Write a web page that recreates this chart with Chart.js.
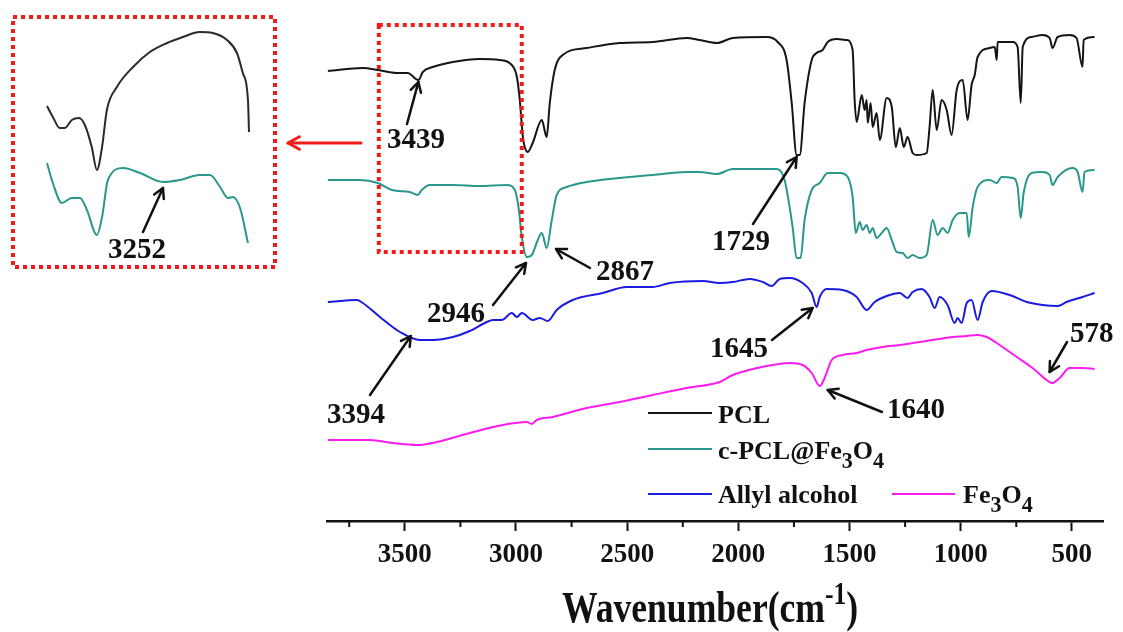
<!DOCTYPE html>
<html><head><meta charset="utf-8">
<script src="https://cdn.jsdelivr.net/npm/chart.js@4.4.1/dist/chart.umd.min.js"></script>
<style>
html,body{margin:0;padding:0;background:#fff;overflow:hidden}
#wrap{position:relative;width:1123px;height:632px;background:#fff}
canvas{position:absolute;left:0;top:0}
</style></head><body>
<div id="wrap"><canvas id="main" width="1123" height="632"></canvas><canvas id="inset" width="290" height="280"></canvas></div>
<script>
const FONT = "'Liberation Serif','Times New Roman',serif";

// ---------- DATA (wavenumber in cm-1, offset intensity in a.u.) ----------
const tickValues = [3500, 3000, 2500, 2000, 1500, 1000, 500];
const minorTickValues = [3750, 3250, 2750, 2250, 1750, 1250, 750];

const pclWavenumber = [3846,3689,3621,3536,3487,3439,3419,3374,3284,3163,3073,3019,2996,2983,2969,2947,2925,2884,2862,2848,2826,2790,2682,2533,2385,2232,2174,2097,2025,1872,1823,1783,1760,1738,1724,1702,1670,1648,1621,1598,1558,1513,1486,1477,1468,1445,1432,1423,1418,1405,1396,1378,1364,1333,1310,1292,1274,1256,1239,1216,1198,1153,1140,1126,1108,1086,1063,1041,1018,991,969,951,937,924,870,847,838,834,766,744,730,721,681,632,600,587,564,510,479,452,447,398];
const pclIntensity = [450,453,451,448,448,441,449,454,459,462,461,456,444,421,384,369,378,401,384,418,451,466,473,478,479,483,481,478,483,484,479,461,418,366,366,418,461,468,471,479,482,481,471,421,399,426,411,421,398,418,394,408,381,423,414,374,393,374,384,368,366,368,394,431,391,421,411,386,431,441,401,436,446,464,473,474,461,479,479,474,418,474,484,486,483,473,484,486,483,454,481,484];

const cpclWavenumber = [3846,3702,3621,3558,3478,3442,3424,3388,3284,3163,3041,3005,2987,2974,2951,2929,2902,2884,2862,2839,2817,2772,2682,2533,2385,2232,2174,2097,2025,1827,1792,1756,1738,1720,1702,1670,1634,1598,1544,1508,1486,1472,1454,1441,1423,1409,1396,1378,1355,1333,1310,1288,1261,1239,1216,1185,1153,1126,1104,1081,1059,1036,1005,973,964,946,924,870,838,816,766,744,730,717,681,632,600,587,564,497,474,452,443,398];
const cpclIntensity = [341,341,338,331,329,326,331,336,336,335,336,331,311,284,264,266,281,288,273,301,326,334,339,343,346,349,349,347,352,352,341,294,263,263,301,331,338,348,348,344,324,288,299,291,296,288,293,283,288,293,281,269,268,263,266,263,266,301,286,293,288,301,308,308,284,314,334,341,338,344,343,334,303,328,348,349,346,336,344,353,349,329,349,351];

const allylWavenumber = [3846,3716,3689,3612,3522,3433,3374,3284,3208,3131,3104,3064,3019,2996,2974,2925,2893,2857,2817,2745,2610,2502,2443,2385,2309,2160,2084,2025,1949,1890,1850,1814,1769,1711,1670,1648,1634,1603,1531,1468,1423,1387,1333,1274,1239,1216,1176,1140,1117,1095,1059,1027,1014,996,973,951,924,901,861,780,703,632,564,524,452,398];
const allylIntensity = [219,221,218,204,189,181,181,184,190,199,201,201,208,204,208,201,203,200,211,221,228,234,234,234,238,240,238,239,242,239,235,242,243,238,228,214,224,232,231,224,211,219,225,228,223,229,232,224,213,224,216,198,203,198,218,221,201,219,230,226,219,216,215,219,224,228];

const fe3o4Wavenumber = [3846,3657,3554,3446,3356,3208,3059,2951,2929,2907,2835,2682,2533,2385,2232,2084,2025,1872,1769,1711,1670,1634,1612,1580,1531,1468,1423,1351,1274,1126,1036,973,928,883,825,748,677,614,587,555,510,452,398];
const fe3o4Intensity = [81,81,78,76,79,88,96,99,97,101,104,113,119,126,133,139,146,155,158,156,148,135,143,161,166,168,171,174,176,181,184,185,186,184,176,164,153,141,138,143,153,153,152];

// inset (magnified 3000-3600 cm-1 region, own offsets)
const insetPclWavenumber = [3584,3567,3547,3532,3512,3491,3474,3454,3439,3424,3410,3381,3334,3285,3235,3189,3140,3102,3061,3032,3015,3000,2997];
const insetPclIntensity = [164,153,142,142,150,152,145,123,100,123,160,183,203,218,227,233,238,237,230,217,197,170,138];
const insetCpclWavenumber = [3584,3567,3541,3512,3488,3468,3439,3424,3407,3363,3314,3247,3198,3140,3110,3081,3058,3044,3023,3000];
const insetCpclIntensity = [107,87,67,72,72,60,35,53,90,102,97,88,90,95,95,83,72,73,62,27];

// peak annotations (label, wavenumber and intensity where the arrow points)
const peakLabels = ['3439','2946','2867','3394','1729','1645','1640','578'];
const peakWavenumber = [3439,2955,2820,3473,1738,1666,1598,600];
const peakIntensity = [439,258,272,185,364,213,131,149];
const insetPeakLabel = '3252';
const insetPeakWavenumber = 3247;
const insetPeakIntensity = 82;

// zoom-box region in main plot
const boxWavenumber = [3617, 2974];
const boxIntensity = [496, 269];

// ---------- STYLE / LAYOUT ----------
const seriesNames = ['PCL', 'c-PCL@Fe3O4', 'Allyl alcohol', 'Fe3O4'];
const COLORS = { pcl:'#151515', cpcl:'#2a978c', allyl:'#1b1be0', fe:'#fb1cf0', red:'#f01c1c' };
// pixel positions of label text (left, baseline) and arrow tails
const peakLayout = [
  {tx:387, ty:148, ax:407, ay:124},
  {tx:427, ty:322, ax:493, ay:305},
  {tx:596, ty:280, ax:590, ay:268},
  {tx:327, ty:423, ax:370, ay:395},
  {tx:712, ty:250, ax:753, ay:224},
  {tx:710, ty:357, ax:772, ay:340},
  {tx:887, ty:418, ax:882, ay:412},
  {tx:1070, ty:342, ax:1067, ay:342}
];

function pts(xs, ys){ return xs.map((x,i)=>({x:x, y:ys[i]})); }

function arrow(ctx, x1, y1, x2, y2, color, lw, head){
  ctx.save();
  ctx.strokeStyle = color; ctx.lineWidth = lw; ctx.lineCap = 'round'; ctx.lineJoin='round';
  ctx.beginPath(); ctx.moveTo(x1,y1); ctx.lineTo(x2,y2); ctx.stroke();
  const a = Math.atan2(y2-y1, x2-x1);
  ctx.beginPath();
  ctx.moveTo(x2 - head*Math.cos(a-0.5), y2 - head*Math.sin(a-0.5));
  ctx.lineTo(x2, y2);
  ctx.lineTo(x2 - head*Math.cos(a+0.5), y2 - head*Math.sin(a+0.5));
  ctx.stroke();
  ctx.restore();
}

function rich(ctx, parts, x, y, size, color){
  ctx.save();
  ctx.fillStyle = color || '#000';
  ctx.textBaseline = 'alphabetic'; ctx.textAlign = 'left';
  let cx = x;
  parts.forEach(p=>{
    let s = size, dy = 0;
    if (p.sub){ s = size*0.85; dy = size*0.33; }
    if (p.sup){ s = size*0.72; dy = -size*0.42; }
    ctx.font = 'bold ' + s + 'px ' + FONT;
    ctx.fillText(p.t, cx, y + dy);
    cx += ctx.measureText(p.t).width;
  });
  ctx.restore();
  return cx;
}

function dottedRect(ctx, x1, y1, x2, y2){
  ctx.save();
  ctx.strokeStyle = COLORS.red; ctx.lineWidth = 4; ctx.setLineDash([4,4]);
  ctx.strokeRect(x1, y1, x2-x1, y2-y1);
  ctx.restore();
}

const mainDecor = {
  id:'mainDecor',
  afterDraw(chart){
    const ctx = chart.ctx, xs = chart.scales.x, ys = chart.scales.y;
    const base = chart.chartArea.bottom;
    // minor ticks
    ctx.save(); ctx.strokeStyle='#111'; ctx.lineWidth=2;
    minorTickValues.forEach(v=>{
      const px = xs.getPixelForValue(v);
      ctx.beginPath(); ctx.moveTo(px, base); ctx.lineTo(px, base+6); ctx.stroke();
    });
    ctx.restore();
    // zoom box
    dottedRect(ctx, xs.getPixelForValue(boxWavenumber[0]), ys.getPixelForValue(boxIntensity[0]),
                    xs.getPixelForValue(boxWavenumber[1]), ys.getPixelForValue(boxIntensity[1]));
    // red arrow to inset
    arrow(ctx, 361, 143, 288, 143, COLORS.red, 3, 13);
    // peak labels
    peakLabels.forEach((lab,i)=>{
      const L = peakLayout[i];
      const tx = xs.getPixelForValue(peakWavenumber[i]);
      const ty = ys.getPixelForValue(peakIntensity[i]);
      arrow(ctx, L.ax, L.ay, tx, ty, '#111', 2.5, 11);
      rich(ctx, [{t:lab}], L.tx, L.ty, 29, '#111');
    });
    // legend
    const leg = [
      {c:COLORS.pcl, x1:648, x2:712, y:413, tx:718, ty:423, parts:[{t:'PCL'}]},
      {c:COLORS.cpcl, x1:648, x2:712, y:449, tx:718, ty:459, parts:[{t:'c-PCL@Fe'},{t:'3',sub:true},{t:'O'},{t:'4',sub:true}]},
      {c:COLORS.allyl, x1:648, x2:712, y:494, tx:718, ty:503, parts:[{t:'Allyl alcohol'}]},
      {c:COLORS.fe, x1:892, x2:955, y:494, tx:963, ty:503, parts:[{t:'Fe'},{t:'3',sub:true},{t:'O'},{t:'4',sub:true}]}
    ];
    leg.forEach(l=>{
      ctx.save(); ctx.strokeStyle=l.c; ctx.lineWidth=2.2;
      ctx.beginPath(); ctx.moveTo(l.x1,l.y); ctx.lineTo(l.x2,l.y); ctx.stroke(); ctx.restore();
      rich(ctx, l.parts, l.tx, l.ty, 26, '#111');
    });
    // axis title (condensed)
    ctx.save();
    ctx.font = 'bold 44px ' + FONT;
    const w = ctx.measureText('Wavenumber(cm').width;
    const sx = 263 / w;
    ctx.translate(562, 622); ctx.scale(sx, 1);
    rich(ctx, [{t:'Wavenumber(cm'},{t:'-1',sup:true},{t:')'}], 0, 0, 44, '#111');
    ctx.restore();
  }
};

new Chart(document.getElementById('main'), {
  type:'line',
  data:{ datasets:[
    {label:seriesNames[3], data:pts(fe3o4Wavenumber, fe3o4Intensity), borderColor:COLORS.fe},
    {label:seriesNames[2], data:pts(allylWavenumber, allylIntensity), borderColor:COLORS.allyl},
    {label:seriesNames[1], data:pts(cpclWavenumber, cpclIntensity), borderColor:COLORS.cpcl},
    {label:seriesNames[0], data:pts(pclWavenumber, pclIntensity), borderColor:COLORS.pcl}
  ].map(d=>Object.assign(d,{borderWidth:2, pointRadius:0, cubicInterpolationMode:'monotone', fill:false, clip:false}))},
  options:{
    responsive:false, animation:false, devicePixelRatio:1,
    layout:{padding:{left:327, right:20, top:20, bottom:0}},
    plugins:{legend:{display:false}, tooltip:{enabled:false}},
    scales:{
      x:{ type:'linear', reverse:true, min:360, max:3850,
        afterBuildTicks(s){ s.ticks = tickValues.map(v=>({value:v})); },
        afterFit(s){ s.height = 632 - 521; },
        border:{display:true, color:'#111', width:2.5},
        grid:{display:true, drawOnChartArea:false, drawTicks:true, tickLength:10, tickWidth:2, tickColor:'#111'},
        ticks:{autoSkip:false, maxRotation:0, padding:8, color:'#111', font:{family:FONT, size:27, weight:'bold'},
          callback:(v)=>String(v)}
      },
      y:{ display:false, min:0, max:501 }
    }
  },
  plugins:[mainDecor]
});

const insetDecor = {
  id:'insetDecor',
  afterDraw(chart){
    const ctx = chart.ctx, xs = chart.scales.x, ys = chart.scales.y;
    dottedRect(ctx, 13, 17, 275, 267);
    arrow(ctx, 143, 232, xs.getPixelForValue(insetPeakWavenumber), ys.getPixelForValue(insetPeakIntensity), '#111', 2.5, 11);
    rich(ctx, [{t:insetPeakLabel}], 108, 258, 29, '#111');
  }
};

new Chart(document.getElementById('inset'), {
  type:'line',
  data:{ datasets:[
    {label:seriesNames[0], data:pts(insetPclWavenumber, insetPclIntensity), borderColor:'#2a2a2a'},
    {label:seriesNames[1], data:pts(insetCpclWavenumber, insetCpclIntensity), borderColor:COLORS.cpcl}
  ].map(d=>Object.assign(d,{borderWidth:2, pointRadius:0, cubicInterpolationMode:'monotone', fill:false, clip:false}))},
  options:{
    responsive:false, animation:false, devicePixelRatio:1,
    layout:{padding:{left:47, right:41, top:0, bottom:10}},
    plugins:{legend:{display:false}, tooltip:{enabled:false}},
    scales:{
      x:{type:'linear', reverse:true, min:2997, max:3584, display:false},
      y:{min:0, max:270, display:false}
    }
  },
  plugins:[insetDecor]
});
</script>
</body></html>
